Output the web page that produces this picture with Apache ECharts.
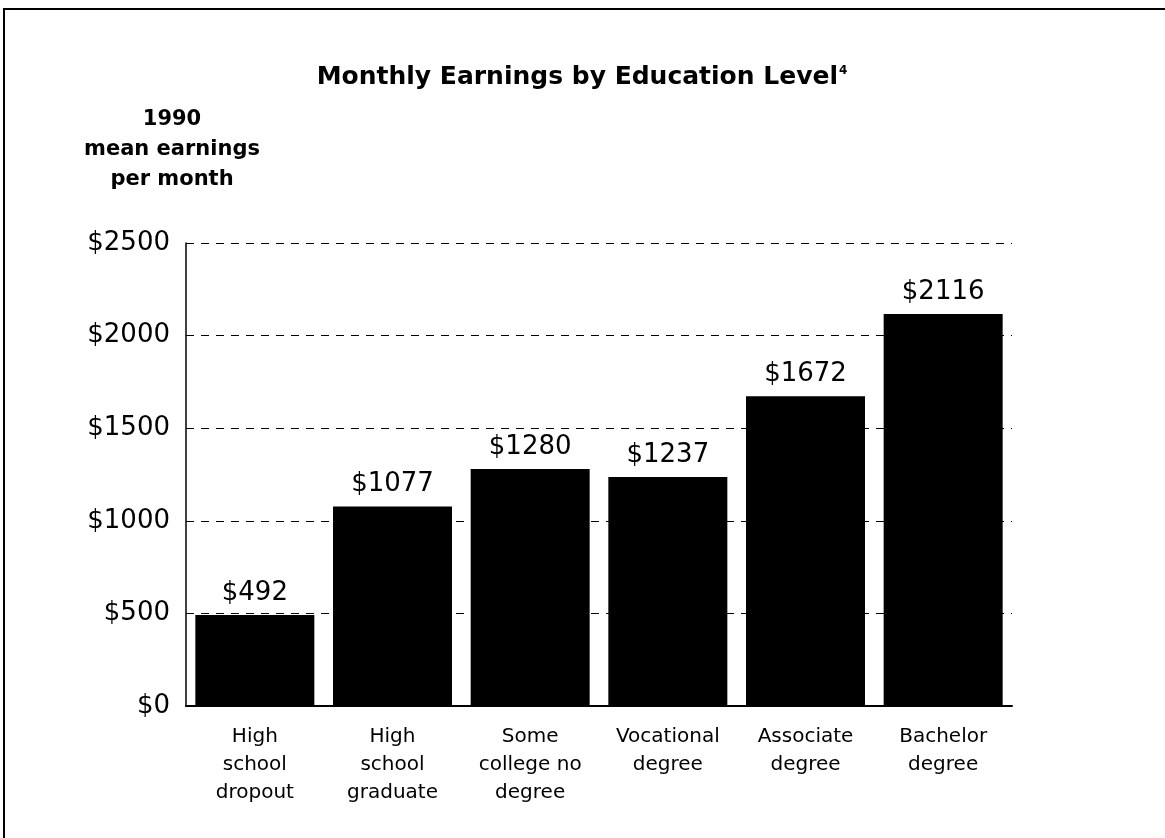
<!DOCTYPE html>
<html>
<head>
<meta charset="utf-8">
<script src="https://cdn.jsdelivr.net/npm/echarts@6/dist/echarts.min.js"></script>
<style>
  html, body { margin: 0; padding: 0; background: #fff; }
  #chart { width: 1165px; height: 838px; }
</style>
</head>
<body>
<div id="chart"></div>
<script>
const categories = [
  "High\nschool\ndropout",
  "High\nschool\ngraduate",
  "Some\ncollege no\ndegree",
  "Vocational\ndegree",
  "Associate\ndegree",
  "Bachelor\ndegree",
];
const earnings = [492, 1077, 1280, 1237, 1672, 2116];
const yTicks = [0, 500, 1000, 1500, 2000, 2500];

const font = "DejaVu Sans";
const chart = echarts.init(document.getElementById("chart"));

const option = {
  backgroundColor: "#fff",
  animation: false,
  title: [
    {
      text: "{t|Monthly Earnings by Education Level}{s|4}",
      left: 577,
      top: 60,
      textAlign: "center",
      textStyle: {
        rich: {
          t: { fontFamily: font, fontSize: 25, fontWeight: "bold", color: "#000" },
          s: { fontFamily: font, fontSize: 12, fontWeight: "bold", color: "#000", verticalAlign: "top", padding: [0, 0, 12, 1] },
        },
      },
    },
    {
      text: "1990\nmean earnings\nper month",
      left: 167,
      top: 100,
      textAlign: "center",
      textStyle: {
        fontFamily: font,
        fontSize: 21,
        fontWeight: "bold",
        color: "#000",
        lineHeight: 30,
      },
    },
  ],
  graphic: [
    {
      type: "polyline",
      shape: { points: [[4, 838], [4, 9], [1165, 9]] },
      style: { stroke: "#000", lineWidth: 2, fill: null },
    },
  ],
  grid: { left: 186, right: 153, top: 243, bottom: 132 },
  xAxis: {
    type: "category",
    data: categories,
    axisLine: { lineStyle: { color: "#000", width: 2 } },
    axisTick: { show: false },
    axisLabel: {
      fontFamily: font,
      fontSize: 20,
      color: "#000",
      lineHeight: 28,
      margin: 17,
      interval: 0,
    },
  },
  yAxis: {
    type: "value",
    min: yTicks[0],
    max: yTicks[yTicks.length - 1],
    interval: 500,
    axisLine: { show: true, lineStyle: { color: "#000", width: 1.5 } },
    axisTick: { show: false },
    axisLabel: {
      fontFamily: font,
      fontSize: 26,
      color: "#000",
      margin: 16,
      formatter: (v) => "$" + v,
    },
    splitLine: {
      lineStyle: { color: "#000", type: [8, 7], width: 1 },
    },
  },
  series: [
    {
      type: "bar",
      data: earnings,
      barWidth: 119,
      itemStyle: { color: "#000" },
      label: {
        show: true,
        position: "top",
        distance: 9,
        fontFamily: font,
        fontSize: 26,
        color: "#000",
        formatter: (p) => "$" + p.value,
      },
    },
  ],
};
chart.setOption(option);
</script>
</body>
</html>
